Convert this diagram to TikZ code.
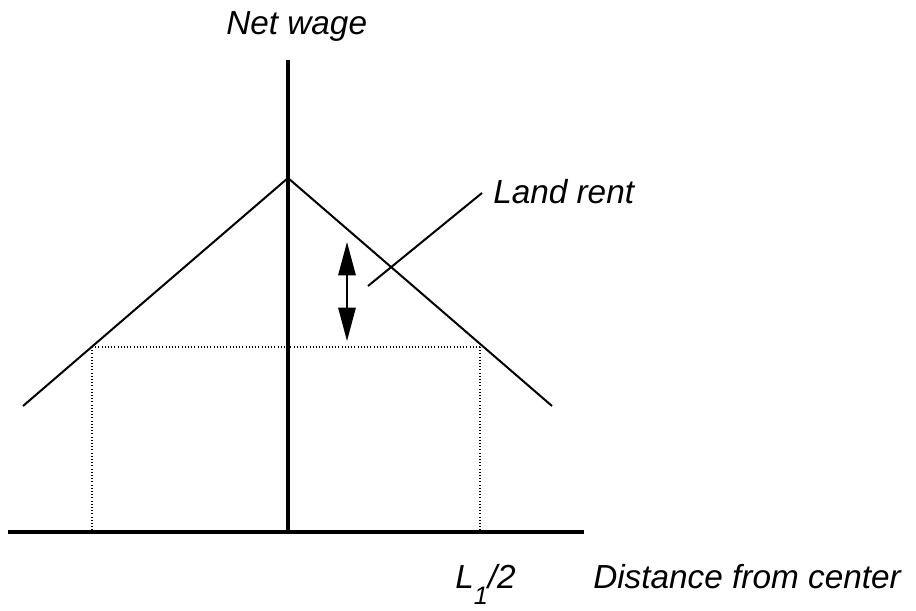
\documentclass[tikz,border=0pt]{standalone}
\usepackage{fontspec}
\setmainfont{Liberation Sans}
\usetikzlibrary{arrows.meta}
\begin{document}
\begin{tikzpicture}[x=0.75pt,y=-0.75pt,
  axis/.style={line width=3.4pt},
  curve/.style={line width=1.5pt},
  guide/.style={line width=0.8pt,dash pattern=on 0.8pt off 1.6pt},
  lbl/.style={font=\fontsize{25pt}{30pt}\selectfont\itshape,inner sep=0pt,anchor=base west}]
\useasboundingbox (0,0) rectangle (916,610);
% coordinates
\coordinate (ytop) at (288,60);
\coordinate (ybot) at (288,532);
\coordinate (xl) at (8,532);
\coordinate (xr) at (584,532);
\coordinate (peak) at (288,178);
\coordinate (lend) at (23,406);
\coordinate (rend) at (552,406);
\coordinate (lq) at (92,347);
\coordinate (rq) at (480,347);
\coordinate (lqb) at (92,532);
\coordinate (rqb) at (480,532);
\coordinate (atop) at (347,242);
\coordinate (abot) at (347,341);
\coordinate (leadA) at (368,286);
\coordinate (leadB) at (482,193);
% guides
\draw[guide] (lq) -- (rq);
\draw[guide] (lq) -- (lqb);
\draw[guide] (rq) -- (rqb);
% axes
\draw[axis] (ytop) -- (ybot);
\draw[axis] (xl) -- (xr);
% wage lines
\draw[curve] (lend) -- (peak) -- (rend);
% double arrow
\draw[curve,{Triangle[length=25pt,width=13pt]}-{Triangle[length=25pt,width=13pt]}] (atop) -- (abot);
% leader
\draw[curve] (leadA) -- (leadB);
% labels
\node[lbl] (netwage) at (226,35) {Net wage};
\node[lbl] (landrent) at (493,203) {Land rent};
\node[lbl] (lhalf) at (455,588) {L\raisebox{-0.5em}{\fontsize{19pt}{19pt}\selectfont 1}/2};
\node[lbl] (dist) at (593,588) {Distance from center};
\end{tikzpicture}
\end{document}
